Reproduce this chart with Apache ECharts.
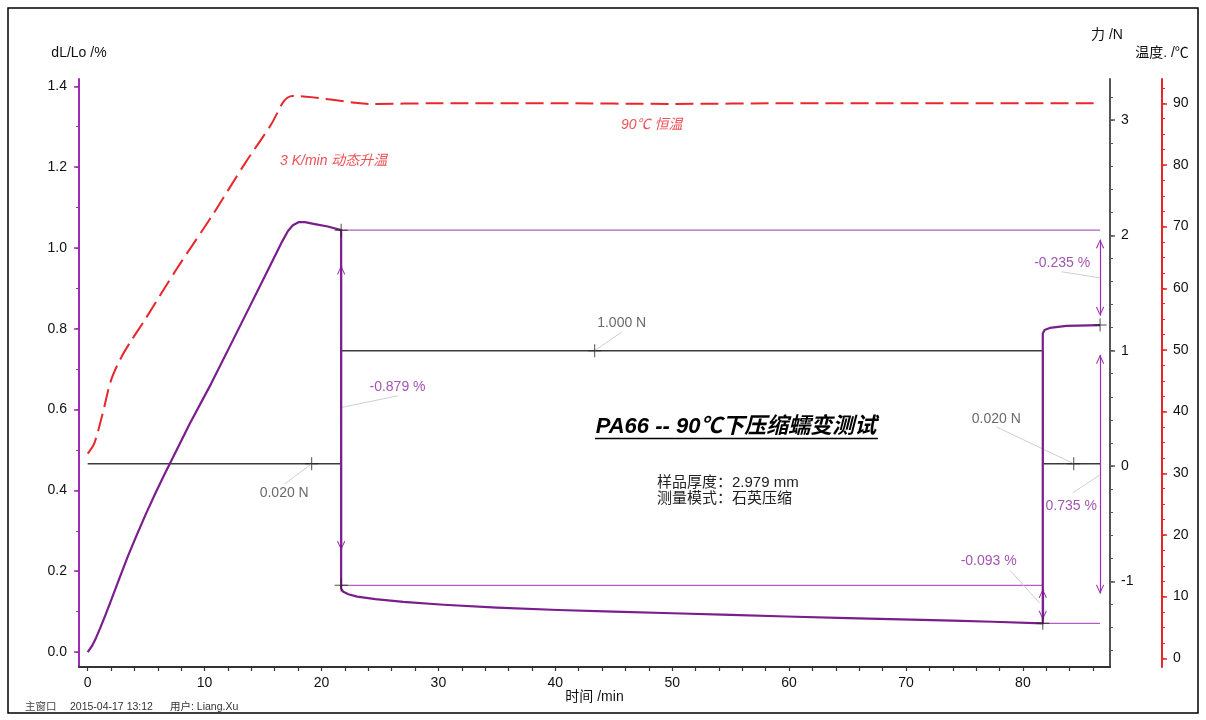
<!DOCTYPE html>
<html><head><meta charset="utf-8">
<script src="https://cdn.jsdelivr.net/npm/echarts@6.0.0/dist/echarts.min.js"></script>
<style>html,body{margin:0;padding:0;background:#fff}#c{width:1206px;height:720px}</style>
</head><body><div id="c"></div>
<script>
// ---------------- data ----------------
const timeTicks = [0, 10, 20, 30, 40, 50, 60, 70, 80];
const dlTicks = [0, 0.2, 0.4, 0.6, 0.8, 1.0, 1.2, 1.4];
const forceTicks = [-1, 0, 1, 2, 3];
const tempTicks = [0, 10, 20, 30, 40, 50, 60, 70, 80, 90];

// dL/Lo (%) curve
const dlTime  = [0, 0.37, 0.71, 1.05, 1.48, 1.91, 2.33, 2.85, 3.45, 4.13, 4.98, 5.84, 6.52, 7.12, 7.89, 8.75, 10.54, 12.17, 13.88, 15.59, 16.62, 17.13, 17.55, 18.07, 18.58, 19.43, 20.54, 21.68,
                 21.68, 21.87, 22.30, 23.05, 24.61, 27.0, 30.45, 35.0, 40.25, 45.0, 50.03, 55.0, 59.79, 65.0, 69.55, 74.0, 77.42, 81.70,
                 81.70, 81.85, 82.30, 83.72, 86.60];
const dlValue = [0, 0.015, 0.035, 0.058, 0.089, 0.121, 0.153, 0.193, 0.238, 0.285, 0.342, 0.396, 0.437, 0.4715, 0.516, 0.566, 0.663, 0.757, 0.856, 0.955, 1.015, 1.042, 1.056, 1.064, 1.064, 1.059, 1.053, 1.044,
                 0.157, 0.149, 0.143, 0.137, 0.131, 0.124, 0.117, 0.110, 0.104, 0.100, 0.096, 0.092, 0.088, 0.084, 0.081, 0.078, 0.075, 0.071,
                 0.788, 0.797, 0.802, 0.807, 0.809];

// temperature (°C)
const tempTime  = [0, 0.57, 1.28, 2.0, 2.87, 3.72, 4.86, 7.7, 10.55, 13.4, 15.7, 16.8, 17.5, 19.1, 22.8, 24.0, 30, 40, 50, 60, 70, 80, 86.6];
const tempValue = [33.2, 34.9, 39.7, 45.1, 48.8, 51.5, 54.8, 63.4, 71.5, 80.1, 86.6, 90.4, 91.2, 91.0, 90.1, 89.9, 90.0, 90.0, 89.9, 90.0, 90.0, 90.0, 90.0];

// force (N)
const forceTime  = [0, 21.68, 21.68, 81.70, 81.70, 86.60];
const forceValue = [0.02, 0.02, 1.000, 1.000, 0.02, 0.02];

// evaluation marks on dL/Lo
const refLines = [[21.68, 86.60, 1.044], [21.68, 81.70, 0.165], [81.70, 86.60, 0.071]]; // [t0, t1, level]
const arrows   = [[21.68, 1.044, 0.165], [86.60, 1.044, 0.809], [86.60, 0.809, 0.071], [81.70, 0.165, 0.071]]; // [t, from, to]
const dlCrosses = [[21.68, 1.044], [21.68, 0.165], [81.70, 0.071], [86.60, 0.809]];
const forceCrosses = [[19.16, 0.02], [43.37, 1.000], [84.35, 0.02]];
const dlLabels = [['-0.879 %', 26.5, 0.656], ['-0.235 %', 83.36, 0.963], ['0.735 %', 84.13, 0.360], ['-0.093 %', 77.07, 0.224]];
const forceLabels = [['1.000 N', 45.68, 1.24], ['0.020 N', 16.81, -0.234], ['0.020 N', 77.72, 0.408]];
const dlLeaders = [[21.68, 0.605, 26.52, 0.634], [83.32, 0.941, 86.57, 0.926], [84.26, 0.394, 86.57, 0.438], [78.87, 0.203, 81.44, 0.121]];
const forceLeaders = [[43.37, 1.0, 45.68, 1.162], [19.16, 0.02, 16.85, -0.156], [77.76, 0.338, 84.35, 0.02]];
const tempLabels = [['3 K/min 动态升温', 21.04, 80.6], ['90℃ 恒温', 48.25, 86.46]];

// ---------------- chart ----------------
const FONT = '"Liberation Sans", Arial, "Noto Sans CJK SC", sans-serif';
const PURPLE_CURVE = '#7a1d8d';
const PURPLE_AXIS = '#9b2eb0';
const PURPLE_THIN = '#b25cc4';
const PURPLE_TEXT = '#8a2a9c';
const RED = '#e8262b';
const GRAY_AX = '#555555';

function range(a, b, s) { const r = []; for (let v = a; v <= b + 1e-9; v += s) r.push(+v.toFixed(4)); return r; }
const timeMinor = range(0, 86, 2);
const dlMinor = range(0, 1.4, 0.1);
const forceMinor = range(-1.6, 3.2, 0.2);
const tempMinor = range(0, 92.5, 2.5);

const X = {min: -0.744, max: 87.45};
const DL = {min: -0.037, max: 1.418};
const F = {min: -1.743, max: 3.356};
const T = {min: -1.41, max: 93.94};

const labelStyle = {fontFamily: FONT, fontSize: 14, color: '#111'};

function minorAxis(pos, off, r, ticks, color) {
  return {type: 'value', position: pos, offset: off, min: r.min, max: r.max,
    axisLine: {show: false, onZero: false}, axisLabel: {show: false},
    axisTick: {show: true, customValues: ticks, length: 3, lineStyle: {color: color, width: 1}},
    splitLine: {show: false}};
}

const chevron = 'path://M5,-9 M5,0 L10,8.6 L9,9.4 L5,2.2 L1,9.4 L0,8.6 Z';
const plus = 'path://M6,0 L7,0 L7,6 L13,6 L13,7 L7,7 L7,13 L6,13 L6,7 L0,7 L0,6 L6,6 Z';

const series = [];
series.push({type: 'line', name: 'force', xAxisIndex: 0, yAxisIndex: 1, z: 2,
  data: forceTime.map((t, i) => [t, forceValue[i]]), symbol: 'none',
  lineStyle: {color: '#3a3a3a', width: 1.5}});
series.push({type: 'line', name: 'temp', xAxisIndex: 0, yAxisIndex: 2, z: 3,
  data: tempTime.map((t, i) => [t, tempValue[i]]), symbol: 'none', smooth: 0.3,
  lineStyle: {color: RED, width: 2, type: [18, 7]}});
refLines.forEach(r => series.push({type: 'line', yAxisIndex: 0, z: 3, symbol: 'none',
  data: [[r[0], r[2]], [r[1], r[2]]], lineStyle: {color: PURPLE_THIN, width: 1.2}}));
series.push({type: 'line', yAxisIndex: 0, data: [], z: 4,
  markLine: {silent: true, animation: false, symbol: [chevron, chevron], symbolSize: [8, 18], label: {show: false},
    lineStyle: {color: PURPLE_AXIS, width: 1.2, type: 'solid'},
    data: arrows.map(a => { const ins = (a[1] - a[2]) * 0.1; return [{coord: [a[0], a[1] - ins]}, {coord: [a[0], a[2] + ins]}]; })}});
series.push({type: 'line', yAxisIndex: 0, data: [], z: 1,
  markLine: {silent: true, animation: false, symbol: ['none', 'none'], label: {show: false},
    lineStyle: {color: '#cfcfcf', width: 1, type: 'solid'},
    data: dlLeaders.map(l => [{coord: [l[0], l[1]]}, {coord: [l[2], l[3]]}])}});
series.push({type: 'line', yAxisIndex: 1, data: [], z: 1,
  markLine: {silent: true, animation: false, symbol: ['none', 'none'], label: {show: false},
    lineStyle: {color: '#cfcfcf', width: 1, type: 'solid'},
    data: forceLeaders.map(l => [{coord: [l[0], l[1]]}, {coord: [l[2], l[3]]}])}});
series.push({type: 'line', name: 'dL', xAxisIndex: 0, yAxisIndex: 0, z: 5,
  data: dlTime.map((t, i) => [t, dlValue[i]]), symbol: 'none',
  lineStyle: {color: PURPLE_CURVE, width: 2.2, join: 'round'}});
series.push({type: 'scatter', yAxisIndex: 0, z: 6, symbol: plus, symbolSize: 13,
  itemStyle: {color: '#222'}, data: dlCrosses});
series.push({type: 'scatter', yAxisIndex: 1, z: 6, symbol: plus, symbolSize: 13,
  itemStyle: {color: '#222'}, data: forceCrosses});
function textSeries(yIdx, arr, style) {
  return {type: 'scatter', yAxisIndex: yIdx, z: 7, symbolSize: 0,
    data: arr.map(a => ({value: [a[1], a[2]], name: a[0]})),
    label: Object.assign({show: true, position: 'inside', formatter: p => p.name}, style)};
}
series.push(textSeries(0, dlLabels, {fontFamily: FONT, fontSize: 14, color: PURPLE_TEXT}));
series.push(textSeries(1, forceLabels, {fontFamily: FONT, fontSize: 14, color: '#444'}));
series.push(textSeries(2, tempLabels, {fontFamily: FONT, fontSize: 14, color: RED, fontStyle: 'italic'}));

const option = {
  animation: false,
  backgroundColor: '#fff',
  grid: {left: 79, right: 96, top: 79, bottom: 53, containLabel: false, outerBoundsMode: 'none'},
  xAxis: [{type: 'value', min: X.min, max: X.max,
    axisLine: {show: true, onZero: false, lineStyle: {color: '#333', width: 2}},
    axisTick: {show: true, customValues: timeMinor, length: 4, lineStyle: {color: '#333', width: 1.2}},
    axisLabel: Object.assign({customValues: timeTicks, margin: 9}, labelStyle),
    splitLine: {show: false},
    name: '时间 /min', nameLocation: 'middle', nameGap: 23, nameMoveOverlap: false,
    nameTextStyle: {fontFamily: FONT, fontSize: 14, color: '#111'}}],
  yAxis: [
    {type: 'value', position: 'left', min: DL.min, max: DL.max,
      axisLine: {show: true, onZero: false, lineStyle: {color: PURPLE_AXIS, width: 2}},
      axisTick: {show: true, customValues: dlTicks, length: 5, lineStyle: {color: PURPLE_AXIS, width: 1.5}},
      axisLabel: Object.assign({customValues: dlTicks, margin: 12, formatter: v => v.toFixed(1)}, labelStyle),
      splitLine: {show: false},
      name: 'dL/Lo /%', nameLocation: 'end', nameGap: 19, nameMoveOverlap: false,
      nameTextStyle: {fontFamily: FONT, fontSize: 14, color: '#111'}},
    {type: 'value', position: 'right', offset: 0, min: F.min, max: F.max,
      axisLine: {show: true, onZero: false, lineStyle: {color: GRAY_AX, width: 2}},
      axisTick: {show: true, customValues: forceTicks, length: 5, lineStyle: {color: GRAY_AX, width: 1.5}},
      axisLabel: Object.assign({customValues: forceTicks, margin: 11}, labelStyle),
      splitLine: {show: false},
      name: '力 /N', nameLocation: 'end', nameGap: 37, nameMoveOverlap: false,
      nameTextStyle: {fontFamily: FONT, fontSize: 14, color: '#111', padding: [0, 6, 0, 0]}},
    {type: 'value', position: 'right', offset: 52, min: T.min, max: T.max,
      axisLine: {show: true, onZero: false, lineStyle: {color: RED, width: 2}},
      axisTick: {show: true, customValues: tempTicks, length: 5, lineStyle: {color: RED, width: 1.5}},
      axisLabel: Object.assign({customValues: tempTicks, margin: 11}, labelStyle),
      splitLine: {show: false},
      name: '温度. /℃', nameLocation: 'end', nameGap: 19, nameMoveOverlap: false,
      nameTextStyle: {fontFamily: FONT, fontSize: 14, color: '#111'}},
    minorAxis('left', 0, DL, dlMinor, PURPLE_AXIS),
    minorAxis('right', 0, F, forceMinor, GRAY_AX),
    minorAxis('right', 52, T, tempMinor, RED)
  ],
  graphic: [
    {type: 'rect', shape: {x: 8, y: 8, width: 1190, height: 705}, style: {fill: 'none', stroke: '#000', lineWidth: 1.5}, silent: true},
    {type: 'text', x: 736, y: 427, style: {text: 'PA66 -- 90℃下压缩蠕变测试', font: 'italic bold 22px ' + FONT, fill: '#000', align: 'center', verticalAlign: 'middle'}},
    {type: 'line', shape: {x1: 595, y1: 438.5, x2: 878, y2: 438.5}, style: {stroke: '#000', lineWidth: 1.5}},
    {type: 'text', x: 657, y: 483, style: {text: '样品厚度：2.979 mm', font: '15px ' + FONT, fill: '#222', verticalAlign: 'middle'}},
    {type: 'text', x: 657, y: 499, style: {text: '测量模式：石英压缩', font: '15px ' + FONT, fill: '#222', verticalAlign: 'middle'}},
    {type: 'text', x: 25, y: 707, style: {text: '主窗口', font: '10.5px ' + FONT, fill: '#444', verticalAlign: 'middle'}},
    {type: 'text', x: 70, y: 707, style: {text: '2015-04-17 13:12', font: '10.5px ' + FONT, fill: '#333', verticalAlign: 'middle'}},
    {type: 'text', x: 170, y: 707, style: {text: '用户: Liang.Xu', font: '10.5px ' + FONT, fill: '#333', verticalAlign: 'middle'}}
  ],
  series: series
};
const chart = echarts.init(document.getElementById('c'), null, {renderer: 'canvas'});
chart.setOption(option);
</script>
</body></html>
